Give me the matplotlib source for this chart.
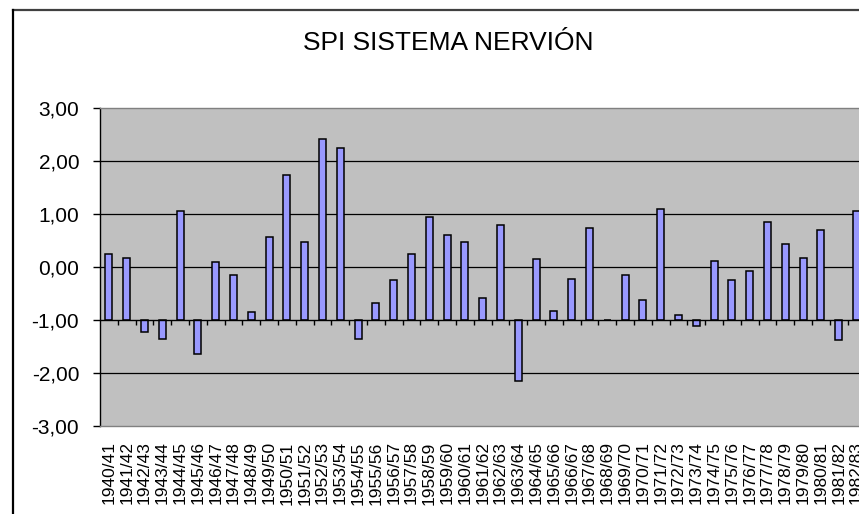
import numpy as np
import matplotlib
matplotlib.use("Agg")
import matplotlib.pyplot as plt
from matplotlib.lines import Line2D
from matplotlib.ticker import FuncFormatter

plt.rcParams['font.family'] = ['Liberation Sans', 'DejaVu Sans']

# años hidrológicos
years = ["1940/41", "1941/42", "1942/43", "1943/44", "1944/45", "1945/46",
         "1946/47", "1947/48", "1948/49", "1949/50", "1950/51", "1951/52",
         "1952/53", "1953/54", "1954/55", "1955/56", "1956/57", "1957/58",
         "1958/59", "1959/60", "1960/61", "1961/62", "1962/63", "1963/64",
         "1964/65", "1965/66", "1966/67", "1967/68", "1968/69", "1969/70",
         "1970/71", "1971/72", "1972/73", "1973/74", "1974/75", "1975/76",
         "1976/77", "1977/78", "1978/79", "1979/80", "1980/81", "1981/82",
         "1982/83"]

# valores SPI
spi = [0.25, 0.17, -1.23, -1.35, 1.05, -1.65, 0.10, -0.15, -0.85, 0.56,
       1.73, 0.48, 2.41, 2.24, -1.36, -0.67, -0.25, 0.25, 0.94, 0.60,
       0.48, -0.58, 0.80, -2.16, 0.15, -0.83, -0.22, 0.73, -1.00, -0.15,
       -0.62, 1.09, -0.91, -1.12, 0.12, -0.25, -0.07, 0.85, 0.43, 0.17,
       0.70, -1.38, 1.06]

base = -1.0  # el eje de categorias cruza en -1

W, H = 859, 514
fig = plt.figure(figsize=(W / 100, H / 100), dpi=100)
fig.patch.set_facecolor("white")

# borde exterior del grafico
fig.add_artist(Line2D([13 / W, 1], [1 - 10 / H, 1 - 10 / H], color="#404040", lw=1.6))
fig.add_artist(Line2D([13 / W, 13 / W], [0, 1 - 10 / H], color="black", lw=1.6))

fig.text(448 / W, 1 - 43 / H, "SPI SISTEMA NERVIÓN", ha="center", va="center",
         fontsize=19)

left, right, top, bottom = 100, 865.4, 108, 426
ax = fig.add_axes([left / W, 1 - bottom / H, (right - left) / W, (bottom - top) / H])
ax.set_facecolor("#C0C0C0")

x = np.arange(len(years))
heights = np.array(spi) - base
ax.bar(x, heights, bottom=base, width=0.4, color="#9999FF", edgecolor="black",
       linewidth=1.1, zorder=3)

ax.set_xlim(-0.5, len(years) - 0.5)
ax.set_ylim(-3, 3)

# lineas de division
for yv in [-2, 0, 1, 2]:
    ax.axhline(yv, color="black", lw=0.9, zorder=1)
ax.axhline(base, color="black", lw=1, zorder=4)
ax.vlines(x[:-1] + 0.5, base - 0.1, base, color="black", lw=1, zorder=4)

ax.set_yticks([-3, -2, -1, 0, 1, 2, 3])
ax.yaxis.set_major_formatter(FuncFormatter(lambda v, p: f"{v:.2f}".replace(".", ",")))
ax.tick_params(axis="y", direction="out", length=5, width=1, pad=10, labelsize=15)

ax.set_xticks(x)
ax.set_xticklabels(years, rotation=90)
ax.tick_params(axis="x", length=0, pad=11, labelsize=12.5)

for s in ["top", "bottom", "right"]:
    ax.spines[s].set_color("#808080")
    ax.spines[s].set_linewidth(1)
ax.spines["left"].set_color("black")
ax.spines["left"].set_linewidth(1)

fig.savefig("out.png", dpi=100)
